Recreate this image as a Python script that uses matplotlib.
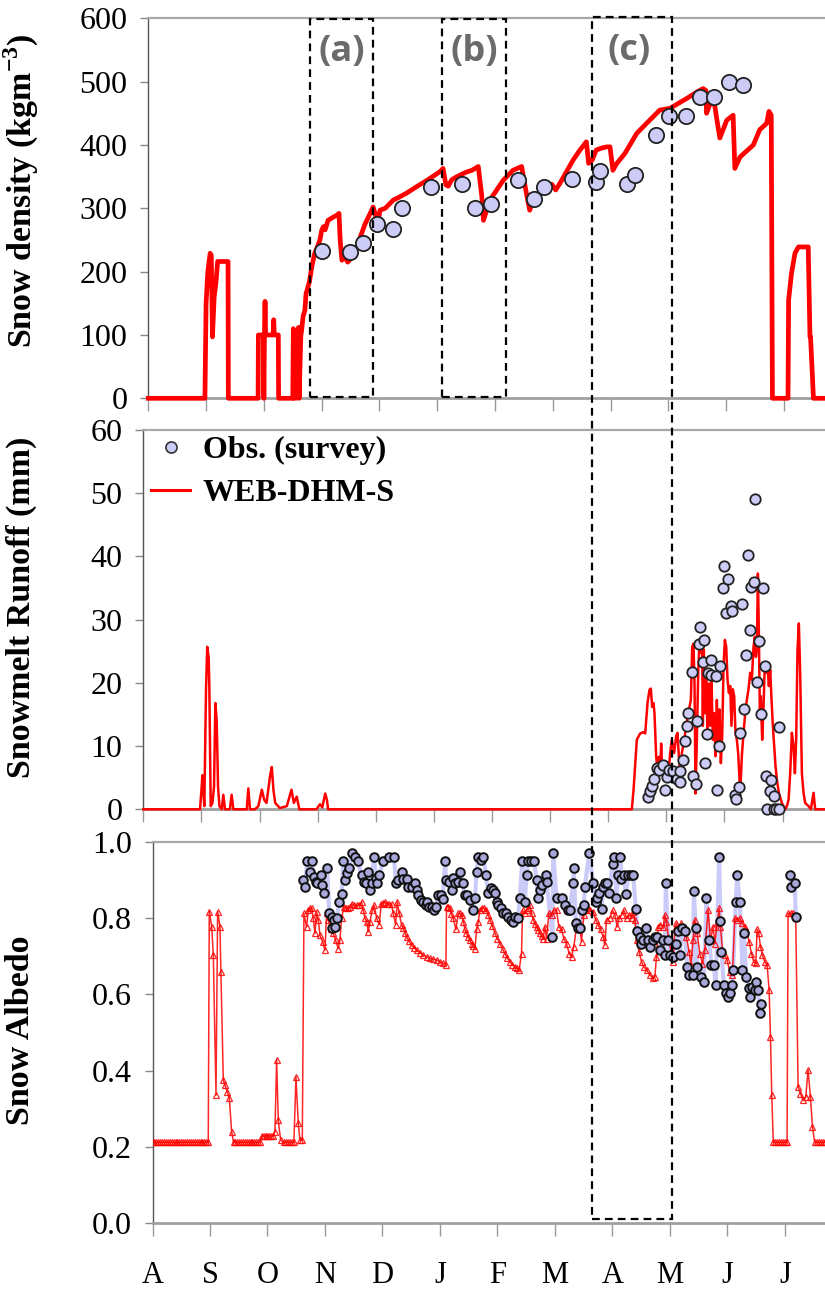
import numpy as np
import matplotlib
matplotlib.use("Agg")
import matplotlib.pyplot as plt
from matplotlib.lines import Line2D
from matplotlib.patches import Rectangle
from matplotlib.transforms import blended_transform_factory

plt.rcParams['font.family'] = ['Liberation Serif', 'DejaVu Serif']
plt.rcParams['mathtext.fontset'] = 'custom'
plt.rcParams['mathtext.rm'] = 'Liberation Serif:bold'
plt.rcParams['mathtext.bf'] = 'Liberation Serif:bold'

# ---------------- data (x in months since 1 Aug) ----------------
MONTHS = ['A', 'S', 'O', 'N', 'D', 'J', 'F', 'M', 'A', 'M', 'J', 'J']

DENS_SIM_M = [0, 0.98, 1.00, 1.03, 1.07, 1.09, 1.11, 1.14, 1.17, 1.20, 1.38, 1.385, 1.90, 1.905, 1.99, 2.00, 2.01,
              2.02, 2.03, 2.16, 2.17, 2.18, 2.25, 2.255, 2.50, 2.51, 2.52, 2.55, 2.56, 2.60, 2.61, 2.64, 2.65,
              2.68, 2.71, 2.73, 2.75, 2.79, 2.83, 2.88, 2.93, 2.97, 3.00, 3.03, 3.06, 3.11, 3.20, 3.26, 3.30, 3.32,
              3.35, 3.40, 3.45, 3.50, 3.55, 3.65, 3.75, 3.84, 3.89, 3.93, 3.96, 3.99, 4.01, 4.10, 4.24, 4.35, 4.47,
              4.64, 4.82, 4.95, 5.05, 5.10, 5.15, 5.19, 5.25, 5.34, 5.50, 5.60, 5.71, 5.77, 5.80, 5.91, 6.00, 6.14,
              6.31, 6.46, 6.55, 6.60, 6.66, 6.78, 6.89, 6.98, 7.05, 7.12, 7.25, 7.35, 7.47, 7.58, 7.62, 7.68, 7.75,
              7.84, 7.93, 7.99, 8.04, 8.10, 8.25, 8.45, 8.62, 8.85, 9.03, 9.31, 9.50, 9.60, 9.65, 9.66, 9.70, 9.75,
              9.78, 9.83, 9.89, 9.95, 10.01, 10.12, 10.15, 10.24, 10.35, 10.47, 10.58, 10.70, 10.74, 10.78, 10.80,
              11.07, 11.08, 11.13, 11.19, 11.25, 11.42, 11.45, 11.46, 11.51, 11.75]
DENS_SIM_V = [0, 0, 150, 200, 229, 225, 97, 160, 182, 216, 216, 0, 0, 100, 100, 0, 100,
              153, 100, 100, 124, 100, 100, 0, 0, 110, 0, 105, 0, 112, 0, 100, 105,
              130, 139, 166, 171, 185, 208, 229, 240, 250, 265, 271, 266, 281, 286, 289, 292, 250,
              218, 224, 215, 220, 224, 250, 275, 292, 302, 290, 270, 287, 297, 300, 313, 318, 324,
              334, 344, 352, 358, 363, 337, 335, 345, 350, 357, 360, 366, 320, 281, 313, 325, 344,
              360, 366, 320, 297, 313, 325, 334, 338, 329, 339, 360, 376, 392, 405, 371, 376, 392,
              395, 397, 397, 360, 370, 387, 418, 434, 455, 458, 473, 484, 489, 486, 450, 460, 470,
              476, 445, 411, 425, 439, 447, 363, 381, 390, 400, 424, 434, 453, 447, 0,
              0, 155, 197, 229, 239, 239, 97, 97, 0, 0]

DENS_OBS_M = [3.01, 3.49, 3.71, 3.95, 4.23, 4.39, 4.89, 5.43, 5.65, 5.93, 6.39, 6.67, 6.85, 7.33, 7.74, 7.81,
              8.29, 8.43, 8.78, 9.01, 9.31, 9.55, 9.79, 10.05, 10.29]
DENS_OBS_V = [233, 231, 245, 275, 267, 301, 334, 338, 300, 307, 344, 314, 334, 346, 342, 359,
              339, 353, 415, 446, 445, 476, 476, 500, 494]

RUN_SIM_M = [0, 0.976, 1.005, 1.016, 1.05, 1.079, 1.10, 1.125, 1.136, 1.16, 1.19, 1.217, 1.24, 1.263, 1.286, 1.31,
             1.35, 1.377, 1.406, 1.49, 1.52, 1.55, 1.78, 1.807, 1.836, 1.92, 1.98, 2.04, 2.08, 2.12, 2.18, 2.21,
             2.24, 2.27, 2.35, 2.47, 2.55, 2.59, 2.64, 2.685, 2.98, 3.04, 3.08, 3.13, 3.16, 3.18,
             8.406, 8.435, 8.492, 8.549, 8.607, 8.636, 8.676, 8.710, 8.733, 8.756, 8.779, 8.796, 8.825, 8.848,
             8.871, 8.894, 8.911, 8.928, 8.963, 9.008, 9.037, 9.066, 9.094, 9.135, 9.169, 9.192, 9.215, 9.238,
             9.267, 9.307, 9.341, 9.364, 9.399, 9.422, 9.445, 9.467, 9.485, 9.502, 9.525, 9.548, 9.571, 9.594,
             9.617, 9.628, 9.645, 9.663, 9.685, 9.708, 9.731, 9.754, 9.777, 9.800, 9.823, 9.846, 9.869, 9.892,
             9.915, 9.938, 9.961, 9.984, 10.007, 10.030, 10.053, 10.076, 10.099, 10.121, 10.144, 10.167, 10.190,
             10.213, 10.236, 10.271, 10.299, 10.328, 10.357, 10.385, 10.414, 10.443, 10.471, 10.500, 10.523,
             10.540, 10.558, 10.575, 10.592, 10.609, 10.626, 10.649, 10.672, 10.695, 10.718, 10.741, 10.764,
             10.787, 10.810, 10.833, 10.856, 10.879, 10.902, 10.936, 10.988, 11.045, 11.074, 11.103, 11.131,
             11.160, 11.189, 11.212, 11.234, 11.257, 11.280, 11.303, 11.332, 11.361, 11.389, 11.447, 11.487,
             11.533, 11.561, 11.73]
RUN_SIM_V = [0, 0, 3.6, 5.4, 0.5, 18.9, 25.7, 24.0, 19.5, 0.5, 1.0, 3.6, 16.8, 14.0, 3.6, 0.5,
             0, 2.3, 0, 0, 2.3, 0, 0, 3.3, 0, 0, 0.5, 3.1, 1.5, 1.0, 5.2, 6.7,
             3.0, 1.0, 0.2, 0.5, 3.1, 1.0, 2.0, 0, 0, 0.8, 0.3, 2.5, 1.5, 0,
             0, 3.0, 11.0, 12.0, 12.2, 12.0, 16.8, 18.9, 19.1, 16.2, 16.8, 15.2, 8.3, 6.2,
             8.3, 5.7, 10.4, 6.2, 5.7, 4.6, 5.7, 8.9, 11.0, 8.9, 11.6, 12.1, 8.4, 5.7,
             8.9, 11.0, 13.1, 14.6, 16.2, 17.3, 25.7, 26.2, 19.9, 2.5, 11.0, 21.5, 26.8, 24.7,
             25.3, 13.2, 25.3, 15.2, 20.5, 12.1, 19.9, 13.2, 20.5, 11.0, 15.2, 8.4, 17.3, 10.0,
             15.8, 7.3, 11.6, 22.6, 26.8, 25.7, 20.5, 18.4, 19.5, 13.2, 19.0, 17.9, 12.1,
             11.0, 8.9, 2.6, 8.4, 12.1, 15.2, 17.3, 19.0, 21.6, 20.5, 25.7, 27.3,
             24.1, 25.2, 37.3, 27.9, 15.2, 17.9, 11.0, 16.2, 23.1, 21.6, 22.6, 19.5,
             22.1, 17.3, 13.2, 10.0, 6.8, 4.7, 2.6, 1.0, 0, 0.5, 1.5, 5.7,
             12.1, 10.0, 5.7, 11.0, 25.2, 29.4, 21.6, 5.7, 2.6, 1.0, 0.5, 0,
             2.6, 0, 0]

RUN_OBS_M = [8.676, 8.716, 8.750, 8.796, 8.836, 8.882, 8.934, 8.98, 9.008, 9.054, 9.112, 9.175, 9.238, 9.238,
             9.295, 9.324, 9.364, 9.381, 9.433, 9.462, 9.502, 9.519, 9.559, 9.582, 9.628, 9.651, 9.668, 9.708,
             9.725, 9.771, 9.777, 9.846, 9.869, 9.909, 9.926, 9.972, 9.995, 10.030, 10.053, 10.110, 10.133,
             10.173, 10.196, 10.253, 10.259, 10.299, 10.328, 10.363, 10.397, 10.431, 10.454, 10.500, 10.53,
             10.558, 10.592, 10.626, 10.655, 10.695, 10.718, 10.730, 10.787, 10.804, 10.844, 10.844, 10.89,
             10.93, 10.936]
RUN_OBS_V = [2.0, 2.9, 3.7, 4.8, 6.6, 6.2, 7.0, 3.1, 5.1, 6.2, 6.1, 4.8, 6.1, 4.3,
             7.8, 10.8, 13.1, 15.2, 21.7, 5.3, 4.0, 13.9, 26.2, 28.8, 23.3, 26.8, 7.4, 11.9,
             21.5, 21.3, 23.6, 21.1, 3.1, 10.0, 22.6, 35.0, 38.5, 31.0, 36.5, 32.2, 31.3,
             2.3, 1.7, 3.6, 12.0, 32.4, 15.8, 24.4, 40.3, 28.3, 35.2, 36.0, 49.1,
             20.2, 26.6, 15.0, 35.0, 22.6, 5.3, 0.0, 2.9, 4.7, 2.1, 0.0, 0.0,
             0.0, 13.0]

# albedo simulation: constant stretches (start, end, value) plus traced points
ALB_SIM_FLATS = [(0.00, 0.97, 0.212), (1.41, 1.87, 0.212), (1.90, 2.10, 0.229),
                 (2.28, 2.46, 0.212), (10.80, 11.04, 0.212), (11.52, 11.70, 0.212)]
ALB_SIM_M = [0.988, 1.03, 1.058, 1.105, 1.133, 1.174, 1.19, 1.232, 1.26, 1.30, 1.336, 1.377,
             2.13, 2.16, 2.188, 2.229, 2.496, 2.536, 2.565, 2.606, 2.635, 2.68, 2.71, 2.74, 2.768, 2.797,
             2.826, 2.855, 2.884, 2.913, 2.96, 3.00, 3.03, 3.058, 3.10, 3.145, 3.185, 3.232, 3.26, 3.29, 3.33,
             3.37, 3.406, 3.435, 3.464, 3.50, 3.55, 3.60, 3.638, 3.667, 3.695, 3.725, 3.754, 3.783, 3.823,
             3.858, 3.899, 3.945, 3.98, 4.01, 4.043, 4.08, 4.119, 4.16, 4.188, 4.229, 4.258, 4.293, 4.333,
             4.362, 4.39, 4.42, 4.46, 4.507, 4.55, 4.594, 4.65, 4.71, 4.77, 4.826, 4.88, 4.942, 5.00, 5.058,
             5.104, 5.116, 5.145, 5.174, 5.20, 5.232, 5.278, 5.32, 5.35, 5.377, 5.41, 5.435, 5.46, 5.493,
             5.52, 5.551, 5.58, 5.609, 5.64, 5.667, 5.696, 5.73, 5.77, 5.81, 5.84, 5.87, 5.91, 5.957, 6.00,
             6.044, 6.09, 6.131, 6.175, 6.218, 6.26, 6.305, 6.34, 6.38, 6.42, 6.438, 6.479, 6.51, 6.537,
             6.566, 6.595, 6.624, 6.65, 6.681, 6.71, 6.74, 6.77, 6.797, 6.826, 6.855, 6.896, 6.942, 6.983,
             7.029, 7.07, 7.116, 7.157, 7.203, 7.249, 7.29, 7.33, 7.377, 7.424, 7.464, 7.505, 7.54, 7.58,
             7.62, 7.667, 7.708, 7.754, 7.795, 7.841, 7.87, 7.899, 7.957, 8.003, 8.044, 8.084, 8.119, 8.16,
             8.2, 8.247, 8.293, 8.334, 8.363, 8.392, 8.421, 8.467, 8.508, 8.548, 8.595, 8.652, 8.71, 8.74,
             8.768, 8.797, 8.838, 8.885, 8.913, 8.942, 8.983, 9.029, 9.058, 9.087, 9.116, 9.157, 9.203,
             9.244, 9.29, 9.336, 9.366, 9.406, 9.435, 9.476, 9.522, 9.568, 9.609, 9.667, 9.707, 9.754,
             9.783, 9.823, 9.858, 9.881, 9.916, 9.957, 9.997, 10.043, 10.09, 10.13, 10.171, 10.217, 10.264,
             10.305, 10.334, 10.38, 10.421, 10.461, 10.496, 10.519, 10.548, 10.577, 10.612, 10.653, 10.693,
             10.728, 10.751, 10.774, 11.058, 11.10, 11.145, 11.191, 11.232, 11.273, 11.319, 11.365, 11.406,
             11.447, 11.482]
ALB_SIM_V = [0.817, 0.777, 0.703, 0.336, 0.817, 0.777, 0.659, 0.375, 0.362, 0.345, 0.328, 0.24,
             0.24, 0.428, 0.271, 0.218, 0.384, 0.262, 0.218, 0.218, 0.812, 0.777, 0.82, 0.825, 0.825, 0.80,
             0.76, 0.817, 0.796, 0.755, 0.738, 0.716, 0.812, 0.796, 0.77, 0.76, 0.742, 0.72, 0.742, 0.80, 0.83,
             0.825, 0.825, 0.83, 0.837, 0.833, 0.833, 0.835, 0.842, 0.82, 0.80, 0.79, 0.764, 0.79, 0.82,
             0.833, 0.80, 0.783, 0.837, 0.84, 0.842, 0.837, 0.837, 0.837, 0.812, 0.783, 0.842, 0.812, 0.782,
             0.773, 0.762, 0.751, 0.74, 0.729, 0.722, 0.716, 0.709, 0.703, 0.698, 0.694, 0.692, 0.69, 0.685,
             0.681, 0.677, 0.83, 0.83, 0.826, 0.81, 0.80, 0.77, 0.812, 0.812, 0.808, 0.79, 0.77, 0.76, 0.751,
             0.742, 0.733, 0.726, 0.72, 0.77, 0.79, 0.82, 0.826, 0.826, 0.82, 0.808, 0.796, 0.78, 0.76, 0.746,
             0.733, 0.72, 0.707, 0.695, 0.685, 0.678, 0.672, 0.668, 0.665, 0.707, 0.82, 0.812, 0.82, 0.825,
             0.833, 0.812, 0.796, 0.785, 0.777, 0.768, 0.76, 0.752, 0.746, 0.777, 0.746, 0.812, 0.808, 0.82,
             0.82, 0.777, 0.77, 0.746, 0.733, 0.707, 0.698, 0.725, 0.777, 0.786, 0.738, 0.808, 0.82, 0.825,
             0.82, 0.817, 0.796, 0.782, 0.77, 0.751, 0.729, 0.796, 0.80, 0.82, 0.808, 0.777, 0.80, 0.808,
             0.82, 0.80, 0.808, 0.80, 0.816, 0.796, 0.742, 0.712, 0.685, 0.672, 0.664, 0.651, 0.642, 0.646,
             0.698, 0.777, 0.782, 0.777, 0.808, 0.79, 0.742, 0.707, 0.685, 0.77, 0.786, 0.77, 0.786,
             0.77, 0.749, 0.712, 0.677, 0.742, 0.796, 0.76, 0.707, 0.68, 0.716, 0.82, 0.742, 0.777,
             0.733, 0.786, 0.825, 0.777, 0.716, 0.703, 0.69, 0.659, 0.651, 0.80, 0.796, 0.80, 0.786,
             0.777, 0.768, 0.738, 0.707, 0.685, 0.681, 0.77, 0.76, 0.725, 0.703, 0.685, 0.677,
             0.611, 0.489, 0.336, 0.812, 0.812, 0.812, 0.80, 0.358, 0.34, 0.323, 0.33, 0.402,
             0.33, 0.253]

ALB_OBS_M = [2.623, 2.652, 2.693, 2.739, 2.768, 2.808, 2.843, 2.866, 2.925, 2.953, 2.982, 3.040, 3.075, 3.116,
             3.13, 3.156, 3.174, 3.203, 3.249, 3.29, 3.319, 3.348, 3.388, 3.423, 3.464, 3.522, 3.568, 3.638,
             3.678, 3.713, 3.754, 3.783, 3.812, 3.852, 3.887, 3.91, 3.945, 4.014, 4.119, 4.2, 4.235, 4.275,
             4.345, 4.362, 4.42, 4.449, 4.507, 4.565, 4.594, 4.623, 4.664, 4.71, 4.756, 4.779, 4.814, 4.855,
             4.895, 4.93, 4.971, 5.011, 5.046, 5.093, 5.104, 5.162, 5.203, 5.232, 5.261, 5.319, 5.348, 5.394,
             5.435, 5.475, 5.522, 5.568, 5.609, 5.638, 5.667, 5.707, 5.754, 5.80, 5.84, 5.881, 5.916, 5.957,
             5.985, 6.014, 6.055, 6.101, 6.148, 6.188, 6.229, 6.275, 6.304, 6.362, 6.391, 6.432, 6.478, 6.507,
             6.536, 6.577, 6.635, 6.681, 6.71, 6.739, 6.768, 6.843, 6.855, 6.959, 6.971, 7.029, 7.116, 7.174,
             7.232, 7.261, 7.319, 7.33, 7.365, 7.406, 7.446, 7.464, 7.504, 7.522, 7.597, 7.667, 7.713, 7.736,
             7.771, 7.812, 7.841, 7.87, 7.91, 7.945, 8.003, 8.026, 8.072, 8.101, 8.142, 8.159, 8.2, 8.235,
             8.275, 8.32, 8.362, 8.409, 8.432, 8.478, 8.507, 8.536, 8.583, 8.623, 8.652, 8.699, 8.739, 8.78,
             8.826, 8.873, 8.913, 8.931, 8.971, 9.012, 9.058, 9.104, 9.145, 9.174, 9.22, 9.261, 9.301, 9.336,
             9.406, 9.417, 9.452, 9.475, 9.551, 9.591, 9.638, 9.684, 9.725, 9.765, 9.80, 9.858, 9.881, 9.899,
             9.939, 9.974, 10.014, 10.043, 10.09, 10.101, 10.148, 10.171, 10.217, 10.264, 10.287, 10.333,
             10.38, 10.403, 10.438, 10.478, 10.507, 10.536, 10.565, 10.583]
ALB_OBS_V = [0.90, 0.882, 0.95, 0.921, 0.95, 0.908, 0.895, 0.891, 0.913, 0.887, 0.865, 0.930, 0.812, 0.803,
             0.773, 0.795, 0.776, 0.799, 0.843, 0.863, 0.95, 0.90, 0.917, 0.93, 0.971, 0.961, 0.95, 0.913,
             0.895, 0.891, 0.921, 0.874, 0.891, 0.961, 0.904, 0.891, 0.913, 0.95, 0.961, 0.961, 0.891, 0.90,
             0.921, 0.901, 0.901, 0.882, 0.882, 0.891, 0.874, 0.861, 0.848, 0.843, 0.834, 0.843, 0.83, 0.83,
             0.821, 0.83, 0.861, 0.861, 0.85, 0.95, 0.90, 0.895, 0.874, 0.904, 0.891, 0.895, 0.921, 0.891,
             0.861, 0.861, 0.848, 0.822, 0.852, 0.921, 0.961, 0.953, 0.961, 0.913, 0.865, 0.878, 0.874, 0.865,
             0.843, 0.834, 0.826, 0.812, 0.812, 0.803, 0.795, 0.79, 0.803, 0.801, 0.852, 0.95, 0.843, 0.913,
             0.95, 0.95, 0.95, 0.90, 0.852, 0.874, 0.887, 0.913, 0.895, 0.751, 0.971, 0.852, 0.852, 0.834,
             0.821, 0.821, 0.891, 0.93, 0.786, 0.773, 0.773, 0.821, 0.834, 0.882, 0.971, 0.891, 0.843, 0.852,
             0.865, 0.823, 0.882, 0.891, 0.891, 0.865, 0.942, 0.961, 0.852, 0.913, 0.961, 0.901, 0.913, 0.863,
             0.913, 0.913, 0.913, 0.823, 0.765, 0.751, 0.733, 0.742, 0.773, 0.742, 0.723, 0.742, 0.751, 0.751,
             0.716, 0.742, 0.703, 0.891, 0.742, 0.703, 0.699, 0.733, 0.765, 0.703, 0.773, 0.765, 0.672, 0.65,
             0.65, 0.872, 0.773, 0.672, 0.646, 0.633, 0.852, 0.742, 0.676, 0.676, 0.624, 0.961, 0.791, 0.712,
             0.624, 0.603, 0.594, 0.603, 0.624, 0.664, 0.843, 0.913, 0.843, 0.664, 0.76, 0.645,
             0.616, 0.594, 0.62, 0.612, 0.633, 0.612, 0.551, 0.575]
ALB_OBS2_M = [11.087, 11.116, 11.174, 11.191]
ALB_OBS2_V = [0.913, 0.882, 0.893, 0.802]

BOX_A = (2.80, 3.89)
BOX_B = (5.08, 6.19)
BOX_C = (7.64, 9.035)

# ---------------- figure ----------------
W, H = 825, 1292
fig = plt.figure(figsize=(W / 100, H / 100), dpi=100)

def px_axes(left, top, bottom, right=W):
    return fig.add_axes([left / W, 1 - bottom / H, (right - left) / W, (bottom - top) / H])

ax1 = px_axes(148.3, 18.3, 398.3)
ax2 = px_axes(143.3, 430.0, 809.3)
ax3 = px_axes(152.5, 841.7, 1223.3)

RED = '#ff0000'
LAV = '#ccccf6'
TICKFONT = 23

for ax, xr in ((ax1, 11.71), (ax2, 11.73), (ax3, 11.70)):
    ax.set_xlim(0, xr)
    ax.set_xticks(range(len(MONTHS)))
    ax.spines['right'].set_visible(False)
    ax.spines['top'].set_color('#a8a8a8')
    ax.spines['top'].set_linewidth(1.6)
    ax.spines['bottom'].set_color('#a0a0a0')
    ax.spines['bottom'].set_linewidth(2.0)
    ax.spines['left'].set_color('#555555')
    ax.spines['left'].set_linewidth(1.0)
    ax.tick_params(axis='y', direction='out', length=6, width=1, color='#888888',
                   labelsize=TICKFONT, pad=9)
    ax.tick_params(axis='x', direction='out', length=9, width=1, color='#999999',
                   labelsize=22, pad=18)

ax1.set_xticklabels([])
ax2.set_xticklabels([])
ax3.set_xticklabels(MONTHS)

# ---- top: density ----
ax1.set_ylim(0, 600)
ax1.set_yticks(range(0, 601, 100))
ax1.plot(DENS_SIM_M, DENS_SIM_V, color=RED, lw=3.4, zorder=3, clip_on=False, solid_joinstyle='round')
ax1.plot(DENS_OBS_M, DENS_OBS_V, 'o', ms=11, mfc=LAV, mec='#222222', mew=1.3, zorder=4)

# ---- middle: runoff ----
ax2.set_ylim(0, 60)
ax2.set_yticks(range(0, 61, 10))
ax2.plot(RUN_SIM_M, RUN_SIM_V, color=RED, lw=1.8, zorder=3, clip_on=False)
ax2.plot(RUN_OBS_M, RUN_OBS_V, 'o', ms=7.5, mfc=LAV, mec='#222222', mew=1.3, zorder=4, clip_on=False)

handles = [Line2D([], [], ls='none', marker='o', ms=8, mfc=LAV, mec='#333333', mew=1.2),
           Line2D([], [], color=RED, lw=2.2)]
ax2.legend(handles, ['Obs. (survey)', 'WEB-DHM-S'], loc='upper left', bbox_to_anchor=(0.012, 0.985),
           frameon=False, borderpad=0, borderaxespad=0, handlelength=1.2, handletextpad=0.4,
           labelspacing=0.42, prop={'family': 'Liberation Serif', 'weight': 'bold', 'size': 23})

# ---- bottom: albedo ----
ax3.set_ylim(0, 1.0)
ax3.set_yticks(np.arange(0, 1.01, 0.2))
ax3.set_yticklabels([f'{v:.1f}' for v in np.arange(0, 1.01, 0.2)])

pts = list(zip(ALB_SIM_M, ALB_SIM_V))
for m0, m1, v in ALB_SIM_FLATS:
    n = int(round((m1 - m0) * 30.4)) + 1
    pts += [(x, v) for x in np.linspace(m0, m1, n)]
pts.sort()
am = [p[0] for p in pts]
av = [p[1] for p in pts]
ax3.plot(am, av, color=RED, lw=1.1, alpha=0.85, marker='^', ms=5, mfc='none', mec=RED, mew=0.9, zorder=3)

for mm, vv in ((ALB_OBS_M, ALB_OBS_V), (ALB_OBS2_M, ALB_OBS2_V)):
    ax3.plot(mm, vv, color='#c6c6fa', lw=3, alpha=0.9, zorder=2.6)
    ax3.plot(mm, vv, 'o', ms=6.2, mfc='#a8a8da', mec='#111111', mew=1.4, zorder=4)

# ---- dashed boxes ----
dash = (0, (3.5, 2.3))
tr1 = blended_transform_factory(ax1.transData, ax1.transAxes)
for (x0, x1) in (BOX_A, BOX_B):
    ax1.add_patch(Rectangle((x0, 0.003), x1 - x0, 0.994, transform=tr1, fill=False,
                            ec='black', lw=1.6, ls=dash, clip_on=False, zorder=5))
trc = blended_transform_factory(ax3.transData, fig.transFigure)
fig.add_artist(Rectangle((BOX_C[0], 1 - 1219 / H), BOX_C[1] - BOX_C[0], (1219 - 17) / H, transform=trc,
                         fill=False, ec='black', lw=1.6, ls=dash, zorder=5))

lab_font = dict(family=['Open Sans', 'DejaVu Sans'], weight='bold', size=26, color='#6b6b6b',
                ha='center', va='center')
ax1.text(sum(BOX_A) / 2, 0.912, '(a)', transform=tr1, **lab_font)
ax1.text(sum(BOX_B) / 2, 0.912, '(b)', transform=tr1, **lab_font)
ax3.text(sum(BOX_C) / 2 - 0.05, 1 - 51 / H, '(c)', transform=trc, **lab_font)

# ---- y labels ----
ylab = dict(rotation=90, ha='center', va='center', fontsize=24.5, fontweight='bold', family='Liberation Serif')
fig.text(21 / W, 1 - 191 / H, 'Snow density (kgm$^{-3}$)', **ylab)
fig.text(21 / W, 1 - 607 / H, 'Snowmelt Runoff (mm)', **ylab)
fig.text(21 / W, 1 - 1030 / H, 'Snow Albedo', **ylab)

fig.savefig('out.png', dpi=100)
